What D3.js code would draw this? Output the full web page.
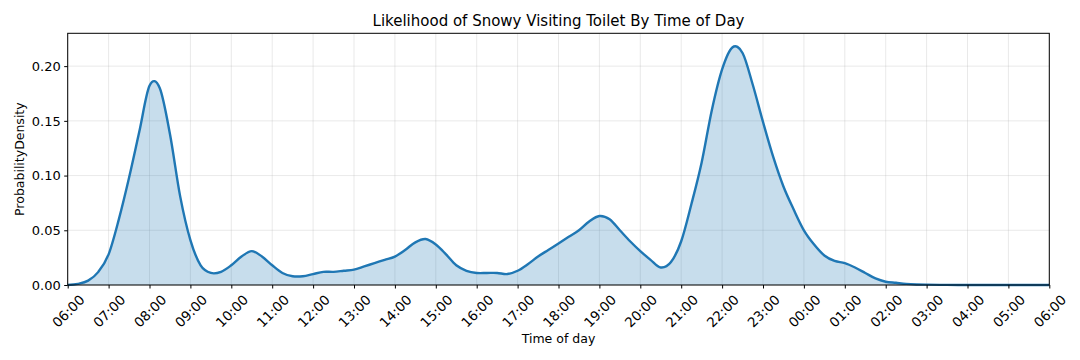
<!DOCTYPE html>
<html>
<head>
<meta charset="utf-8">
<script src="https://cdn.jsdelivr.net/npm/d3@7"></script>
<style>
  html, body { margin: 0; padding: 0; background: #fff; }
  svg { display: block; font-family: "DejaVu Sans", sans-serif; }
</style>
</head>
<body>
<svg id="chart" width="1080" height="360"></svg>
<script>
// Hours elapsed since 06:00, read every 15 minutes
const hours = [0,0.25,0.5,0.75,1,1.25,1.5,1.75,2,2.25,2.5,2.75,3,3.25,3.5,3.75,4,4.25,4.5,4.75,5,5.25,5.5,5.75,6,6.25,6.5,6.75,7,7.25,7.5,7.75,8,8.25,8.5,8.75,9,9.25,9.5,9.75,10,10.25,10.5,10.75,11,11.25,11.5,11.75,12,12.25,12.5,12.75,13,13.25,13.5,13.75,14,14.25,14.5,14.75,15,15.25,15.5,15.75,16,16.25,16.5,16.75,17,17.25,17.5,17.75,18,18.25,18.5,18.75,19,19.25,19.5,19.75,20,20.25,20.5,20.75,21,21.5,22,22.5,23,23.5,24];
const density = [0.000,0.001,0.004,0.012,0.028,0.060,0.098,0.140,0.182,0.180,0.138,0.081,0.041,0.018,0.011,0.012,0.018,0.026,0.031,0.026,0.018,0.011,0.008,0.008,0.010,0.012,0.012,0.013,0.014,0.017,0.020,0.023,0.026,0.032,0.039,0.042,0.037,0.028,0.018,0.013,0.011,0.011,0.011,0.010,0.013,0.019,0.026,0.032,0.038,0.044,0.050,0.058,0.063,0.060,0.050,0.040,0.031,0.023,0.016,0.021,0.040,0.074,0.112,0.160,0.197,0.217,0.212,0.183,0.149,0.117,0.090,0.069,0.050,0.037,0.027,0.022,0.020,0.016,0.011,0.006,0.003,0.002,0.001,0.0005,0.0003,0.0001,0,0,0,0,0];
const xTickLabels = ["06:00","07:00","08:00","09:00","10:00","11:00","12:00","13:00","14:00","15:00","16:00","17:00","18:00","19:00","20:00","21:00","22:00","23:00","00:00","01:00","02:00","03:00","04:00","05:00","06:00"];
const yTicks = [0.00,0.05,0.10,0.15,0.20];
const title = "Likelihood of Snowy Visiting Toilet By Time of Day";
const xLabel = "Time of day";
const yLabel = "ProbabilityDensity";

const svg = d3.select("#chart");
const m = {left: 67.7, right: 1049.3, top: 33.3, bottom: 285};
const x = d3.scaleLinear().domain([0, 24]).range([m.left, m.right]);
const y = d3.scaleLinear().domain([0, 0.23]).range([m.bottom, m.top]);
const data = hours.map((h, i) => ({h, d: density[i]}));
const tickHours = xTickLabels.map((_, i) => i);

// grid
const grid = svg.append("g");
grid.selectAll("line.vx").data(tickHours).join("line")
  .attr("x1", d => x(d)).attr("x2", d => x(d))
  .attr("y1", m.top).attr("y2", m.bottom)
  .attr("stroke", "#b0b0b0").attr("stroke-opacity", 0.35).attr("stroke-width", 0.8);
grid.selectAll("line.hy").data(yTicks).join("line")
  .attr("x1", m.left).attr("x2", m.right)
  .attr("y1", d => y(d)).attr("y2", d => y(d))
  .attr("stroke", "#b0b0b0").attr("stroke-opacity", 0.35).attr("stroke-width", 0.8);

// area + line
const curve = d3.curveCatmullRom.alpha(0);
svg.append("path").datum(data)
  .attr("d", d3.area().x(d => x(d.h)).y0(y(0)).y1(d => y(d.d)).curve(curve))
  .attr("fill", "#1f77b4").attr("fill-opacity", 0.25);
svg.append("path").datum(data)
  .attr("d", d3.line().x(d => x(d.h)).y(d => y(d.d)).curve(curve))
  .attr("fill", "none").attr("stroke", "#1f77b4").attr("stroke-width", 2.4)
  .attr("stroke-linejoin", "round");

// frame
svg.append("rect").attr("x", m.left).attr("y", m.top)
  .attr("width", m.right - m.left).attr("height", m.bottom - m.top)
  .attr("fill", "none").attr("stroke", "#000").attr("stroke-width", 1);

// x axis
const xAxis = d3.axisBottom(x).tickValues(tickHours).tickFormat(i => xTickLabels[i]).tickSizeInner(3.5).tickSizeOuter(0).tickPadding(3.5);
const gx = svg.append("g").attr("transform", `translate(0,${m.bottom})`).call(xAxis);
gx.select(".domain").remove();
gx.selectAll(".tick line").attr("stroke", "#000");
gx.selectAll(".tick text")
  .attr("font-size", 13.5).attr("fill", "#000")
  .attr("font-family", "DejaVu Sans")
  .attr("text-anchor", "middle").attr("dy", null).attr("y", null)
  .attr("dominant-baseline", "central")
  .attr("transform", "translate(0,26) rotate(-45)");

// y axis
const yAxis = d3.axisLeft(y).tickValues(yTicks).tickFormat(d3.format(".2f")).tickSizeInner(3.5).tickSizeOuter(0).tickPadding(3.5);
const gy = svg.append("g").attr("transform", `translate(${m.left},0)`).call(yAxis);
gy.select(".domain").remove();
gy.selectAll(".tick line").attr("stroke", "#000");
gy.selectAll(".tick text").attr("font-size", 13).attr("fill", "#000").attr("font-family", "DejaVu Sans");

// labels
svg.append("text").attr("x", (m.left + m.right) / 2).attr("y", 26)
  .attr("text-anchor", "middle").attr("font-size", 15).attr("fill", "#000").text(title);
svg.append("text").attr("x", (m.left + m.right) / 2).attr("y", 343)
  .attr("text-anchor", "middle").attr("font-size", 12.5).attr("fill", "#000").text(xLabel);
svg.append("text").attr("transform", `translate(24,${(m.top + m.bottom) / 2}) rotate(-90)`)
  .attr("text-anchor", "middle").attr("font-size", 12.5).attr("fill", "#000").text(yLabel);
</script>
</body>
</html>
